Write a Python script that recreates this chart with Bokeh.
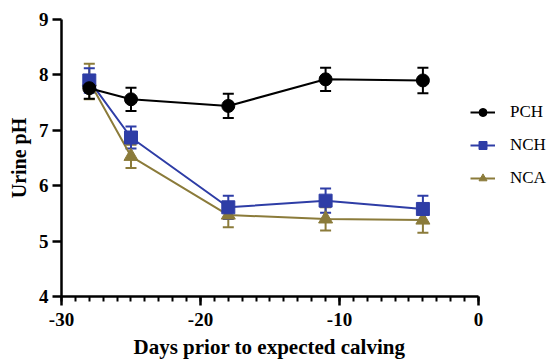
from bokeh.plotting import figure
from bokeh.models import (ColumnDataSource, Whisker, TeeHead, Legend, LegendItem,
                          FixedTicker, PrintfTickFormatter, Title)
from bokeh.embed import file_html
from bokeh.resources import INLINE

days = [-28, -25, -18, -11, -4]
pch = [7.76, 7.56, 7.44, 7.92, 7.90]
pch_err = [0.19, 0.21, 0.22, 0.21, 0.23]
nch = [7.90, 6.87, 5.61, 5.73, 5.58]
nch_err = [0.22, 0.20, 0.21, 0.22, 0.24]
nca = [7.88, 6.53, 5.47, 5.40, 5.38]
nca_err = [0.32, 0.21, 0.22, 0.21, 0.23]
names = ["PCH", "NCH", "NCA"]
colors = ["#000000", "#2e3da6", "#8b7b3a"]
x_title = "Days prior to expected calving"
y_title = "Urine pH"

p = figure(width=550, height=363, output_backend="svg", toolbar_location=None,
           x_range=(-30, 5.18), y_range=(4, 9),
           min_border_left=61, min_border_top=19, min_border_bottom=66, min_border_right=0)
p.outline_line_color = None
p.grid.grid_line_color = None
p.background_fill_color = "white"

for ax in (p.xaxis[0], p.yaxis[0]):
    ax.axis_line_width = 2.5
    ax.major_tick_line_width = 2.5
    ax.minor_tick_line_width = 2
    ax.major_tick_out = 9
    ax.major_tick_in = 0
    ax.minor_tick_in = 0
    ax.formatter = PrintfTickFormatter(format="%d")
    ax.major_label_text_font = "Liberation Serif"
    ax.major_label_text_font_style = "bold"
    ax.major_label_text_font_size = "19px"
    ax.major_label_text_color = "black"
    ax.axis_label_text_font = "Liberation Serif"
    ax.axis_label_text_font_style = "bold"
    ax.axis_label_text_font_size = "20px"
    ax.axis_label_text_color = "black"

p.xaxis.bounds = (-30, 0)
p.xaxis.ticker = FixedTicker(ticks=[-30, -20, -10, 0], minor_ticks=list(range(-30, 1)))
p.xaxis.minor_tick_out = 5
p.xaxis.major_label_standoff = 7
p.yaxis.ticker = FixedTicker(ticks=[4, 5, 6, 7, 8, 9], minor_ticks=[])
p.yaxis.axis_label = y_title
p.yaxis.major_label_standoff = 4
p.yaxis.axis_label_standoff = 6

p.add_layout(Title(text=x_title, align="left", offset=72, standoff=9,
                   text_font="Liberation Serif", text_font_style="bold",
                   text_font_size="21px", text_color="black"), "below")

series = [(nca, nca_err, 2, "triangle"), (nch, nch_err, 1, "square"), (pch, pch_err, 0, "circle")]
items = {}
for vals, errs, ci, marker in series:
    src = ColumnDataSource(dict(x=days, y=vals,
                                lo=[v - e for v, e in zip(vals, errs)],
                                hi=[v + e for v, e in zip(vals, errs)]))
    c = colors[ci]
    w = Whisker(source=src, base="x", lower="lo", upper="hi", line_color=c, line_width=2,
                upper_head=TeeHead(size=11, line_color=c, line_width=2),
                lower_head=TeeHead(size=11, line_color=c, line_width=2))
    p.add_layout(w)
    l = p.line("x", "y", source=src, line_color=c, line_width=2)
    s = p.scatter("x", "y", source=src, marker=marker, size=13 if marker != "triangle" else 14,
                  fill_color=c, line_color=c)
    items[names[ci]] = [l, s]

legend = Legend(items=[LegendItem(label=n, renderers=items[n]) for n in names],
                border_line_color=None, background_fill_alpha=0,
                label_text_font="Liberation Serif", label_text_font_size="17px",
                label_text_color="black",
                spacing=13, glyph_width=25, glyph_height=20, label_height=20,
                label_standoff=15, margin=0, padding=0)
legend.location = (409, 108)
p.add_layout(legend)

open("out.html", "w").write(file_html(p, INLINE))
